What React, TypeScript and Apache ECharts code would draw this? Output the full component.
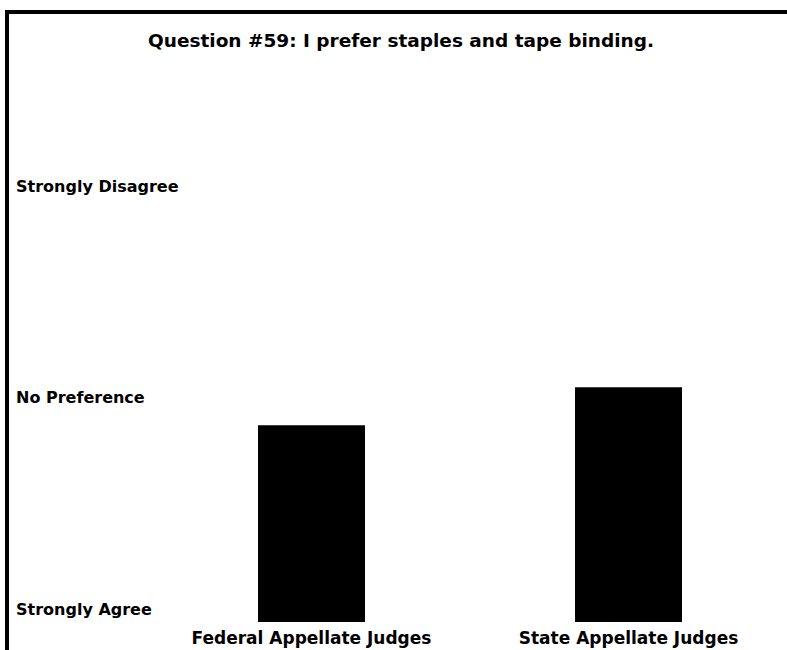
import React, { useEffect, useRef } from "react";
import * as echarts from "echarts";

const titleText = "Question #59: I prefer staples and tape binding.";
const categories = ["Federal Appellate Judges", "State Appellate Judges"];
const meanResponses = [2.74, 3.1];
const scaleValues = [1, 3, 5];
const scaleLabels = ["Strongly Agree", "No Preference", "Strongly Disagree"];

const FONT = "'DejaVu Sans', Verdana, sans-serif";

export default function App() {
  const ref = useRef<HTMLDivElement>(null);
  useEffect(() => {
    if (!ref.current) return;
    const chart = echarts.init(ref.current, null, { renderer: "svg" });
    const labelMap: Record<string, string> = {};
    scaleValues.forEach((v, i) => (labelMap[String(v)] = scaleLabels[i]));
    chart.setOption({
      animation: false,
      backgroundColor: "#ffffff",
      title: {
        text: titleText,
        left: 396,
        textAlign: "center",
        top: 26,
        textStyle: { fontFamily: FONT, fontWeight: "bold", fontSize: 18.5, color: "#000" },
      },
      graphic: [
        {
          type: "polyline",
          shape: { points: [[7, 650], [7, 12], [787, 12]] },
          style: { stroke: "#000", lineWidth: 4, fill: null },
          z: 100,
        },
      ],
      grid: { left: 153, right: -1, top: 133.4, bottom: 28, containLabel: false },
      xAxis: {
        type: "category",
        data: categories,
        axisLine: { show: false },
        axisTick: { show: false },
        axisLabel: {
          fontFamily: FONT,
          fontWeight: "bold",
          fontSize: 17,
          color: "#000",
          margin: 7,
          interval: 0,
        },
      },
      yAxis: {
        type: "value",
        min: 0.88,
        max: 5.5,
        axisLine: { show: false },
        axisTick: { show: false },
        splitLine: { show: false },
        axisLabel: {
          customValues: scaleValues,
          formatter: (v: number) => labelMap[String(v)] ?? "",
          align: "left",
          margin: 137,
          fontFamily: FONT,
          fontWeight: "bold",
          fontSize: 16,
          color: "#000",
        },
      },
      series: [
        {
          type: "bar",
          data: meanResponses,
          barWidth: 107,
          itemStyle: { color: "#000" },
        },
      ],
    });
    return () => chart.dispose();
  }, []);
  return (
    <div
      ref={ref}
      style={{ position: "fixed", left: 0, top: 0, width: 787, height: 650 }}
    />
  );
}
